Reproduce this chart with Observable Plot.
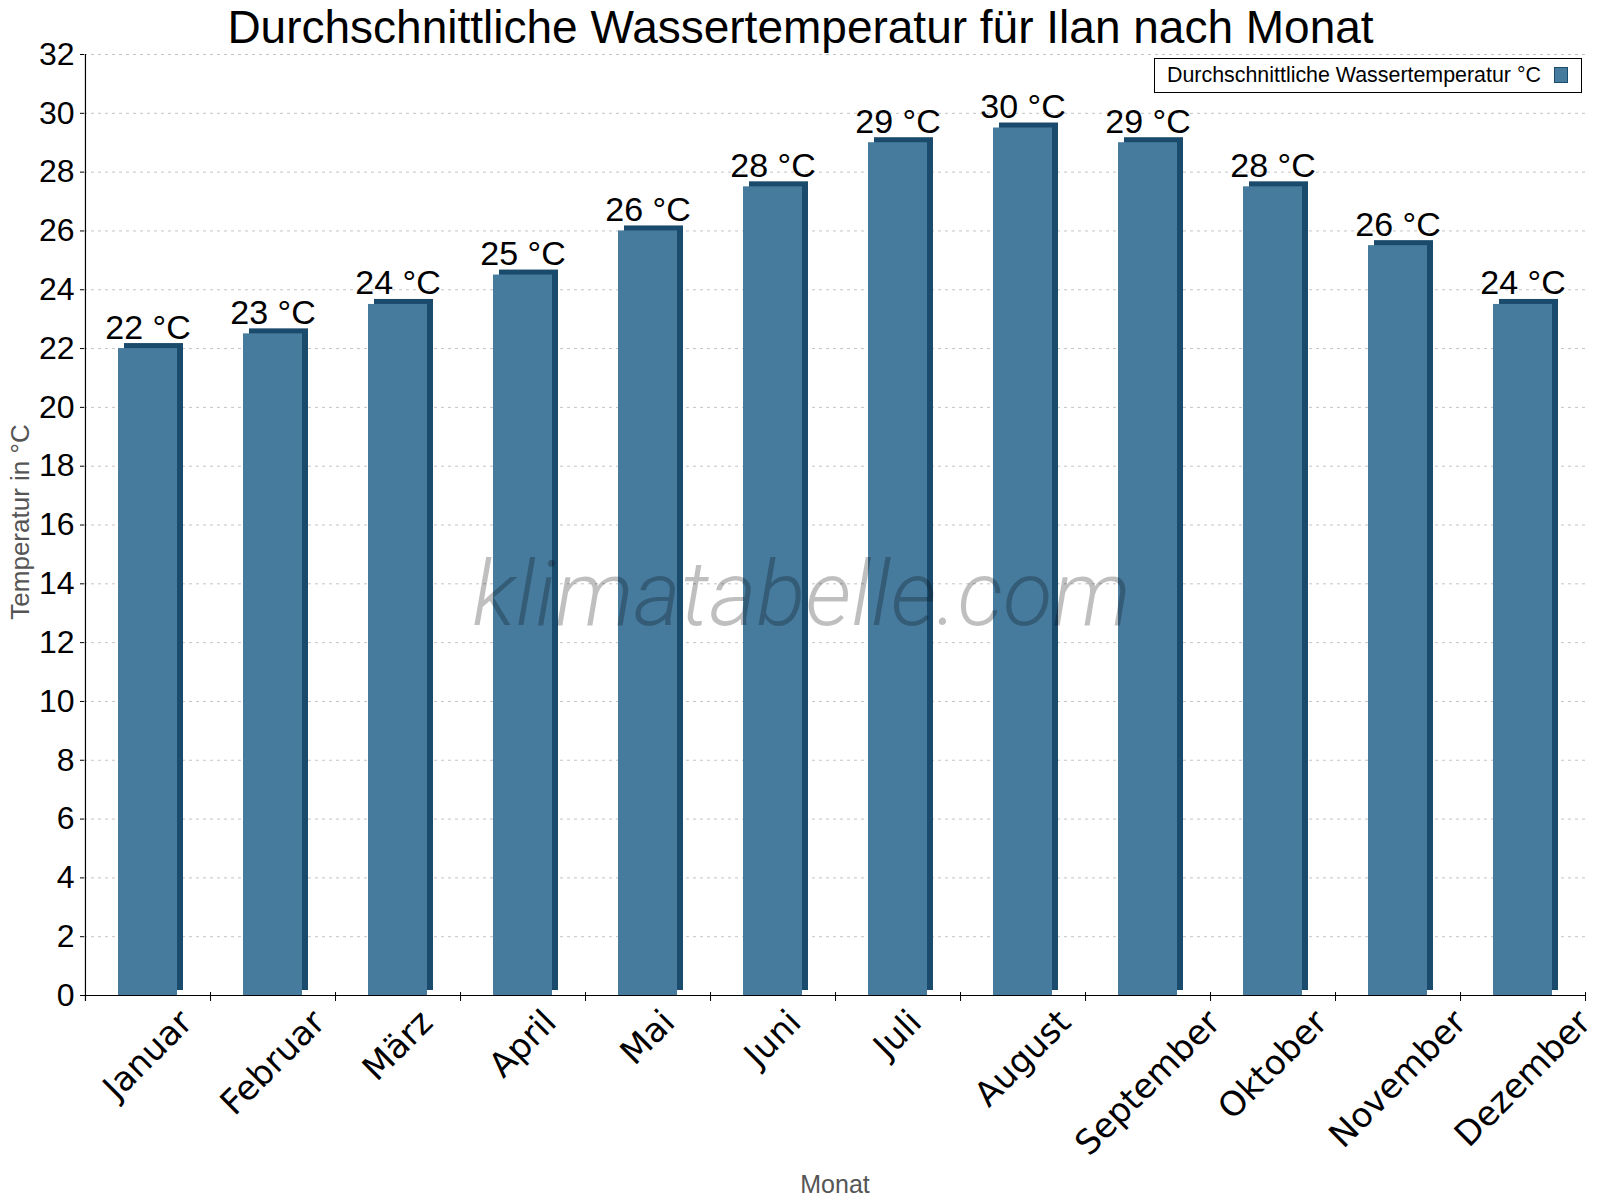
<!DOCTYPE html>
<html><head><meta charset="utf-8">
<script src="https://cdn.jsdelivr.net/npm/d3@7"></script>
<script src="https://cdn.jsdelivr.net/npm/@observablehq/plot@0.6"></script>
<style>body{margin:0;background:#fff}</style>
</head><body>
<script>
const months = ["Januar","Februar","März","April","Mai","Juni","Juli","August","September","Oktober","November","Dezember"];
const waterTemp = [22, 22.5, 23.5, 24.5, 26, 27.5, 29, 29.5, 29, 27.5, 25.5, 23.5];
const valueLabels = ["22 °C","23 °C","24 °C","25 °C","26 °C","28 °C","29 °C","30 °C","29 °C","28 °C","26 °C","24 °C"];
const yTicks = [0,2,4,6,8,10,12,14,16,18,20,22,24,26,28,30,32];
const titleText = "Durchschnittliche Wassertemperatur für Ilan nach Monat";
const seriesName = "Durchschnittliche Wassertemperatur °C";
const yLabel = "Temperatur in °C";
const xLabel = "Monat";
const watermark = "klimatabelle.com";

const data = months.map((m, i) => ({month: m, temp: waterTemp[i], label: valueLabels[i]}));

const W = 1600, H = 1200, mL = 84, mR = 15, mT = 54, mB = 205;
const step = (W - mL - mR) / months.length;
const unit = (H - mT - mB) / 32;
const frontColor = "#467b9e", darkColor = "#1b4b6c";

// x tick labels: rotated -45°, rotated box centred on the band, its top a fixed gap below the axis
const xFont = 34;
const ctx = document.createElement("canvas").getContext("2d");
ctx.font = `${xFont}px 'DejaVu Sans'`;
const labelOffset = m => {
  const w = ctx.measureText(m).width;
  const px = 14 + 0.7071 * (w / 2 + 0.3 * xFont);
  return -px / unit;
};

const plot = Plot.plot({
  width: W, height: H,
  marginLeft: mL, marginRight: mR, marginTop: mT, marginBottom: mB,
  style: {fontFamily: "'Liberation Sans', Arial, sans-serif", background: "#fff", overflow: "visible", color: "#000"},
  x: {domain: months, paddingInner: 0.528, paddingOuter: 0.264, axis: null},
  y: {domain: [0, 32]},
  marks: [
    Plot.gridY(yTicks, {stroke: "#c4c4c4", strokeOpacity: 1, strokeDasharray: "3,4"}),
    Plot.axisY(yTicks, {tickSize: 4, tickPadding: 6, fontSize: 32, label: null, tickFormat: d => String(d)}),
    Plot.barY(data, {x: "month", y: "temp", fill: darkColor, dx: 6, dy: -5}),
    Plot.barY(data, {x: "month", y: "temp", fill: frontColor}),
    Plot.text([watermark], {frameAnchor: "middle", dx: -33.5, dy: 100, lineAnchor: "bottom", fontSize: 91, fontFamily: "Roboto", fontStyle: "italic", fontWeight: 300, fill: "#000", fillOpacity: 0.25}),
    Plot.ruleY([0], {stroke: "#000", strokeWidth: 1.2}),
    Plot.ruleX([months[0]], {dx: -step / 2, y1: -6 / unit, y2: 32, stroke: "#000", strokeWidth: 1.2}),
    Plot.ruleX(months, {dx: step / 2, y1: -6 / unit, y2: 3 / unit, stroke: "#000"}),
    Plot.text(data, {x: "month", y: "temp", text: "label", dy: -10, lineAnchor: "bottom", fontSize: 34, fill: "#000"}),
    Plot.text(months, {x: d => d, y: labelOffset, text: d => d, rotate: -45, textAnchor: "middle", lineAnchor: "middle", fontSize: xFont, fontFamily: "'DejaVu Sans', sans-serif", fill: "#000"}),
    Plot.text([titleText], {frameAnchor: "top", dx: -34.5, dy: -12, lineAnchor: "bottom", fontSize: 46, fill: "#000"}),
    Plot.text([yLabel], {frameAnchor: "left", rotate: -90, textAnchor: "middle", dx: -56, dy: -3, lineAnchor: "bottom", fontSize: 26, fill: "#555"}),
    Plot.text([xLabel], {frameAnchor: "bottom", textAnchor: "middle", dy: 197, lineAnchor: "bottom", fontSize: 25, fill: "#555"})
  ]
});

const svg = d3.select(plot);
const lg = svg.append("g");
lg.append("rect").attr("x", 1154.5).attr("y", 58.5).attr("width", 427).attr("height", 34)
  .attr("fill", "#fff").attr("stroke", "#000");
lg.append("text").attr("x", 1167).attr("y", 82).attr("text-anchor", "start")
  .attr("font-size", 21.4).attr("fill", "#000").text(seriesName);
lg.append("rect").attr("x", 1554.5).attr("y", 67.5).attr("width", 13).attr("height", 15)
  .attr("fill", frontColor).attr("stroke", darkColor);

document.body.appendChild(plot);
</script>
</body></html>
